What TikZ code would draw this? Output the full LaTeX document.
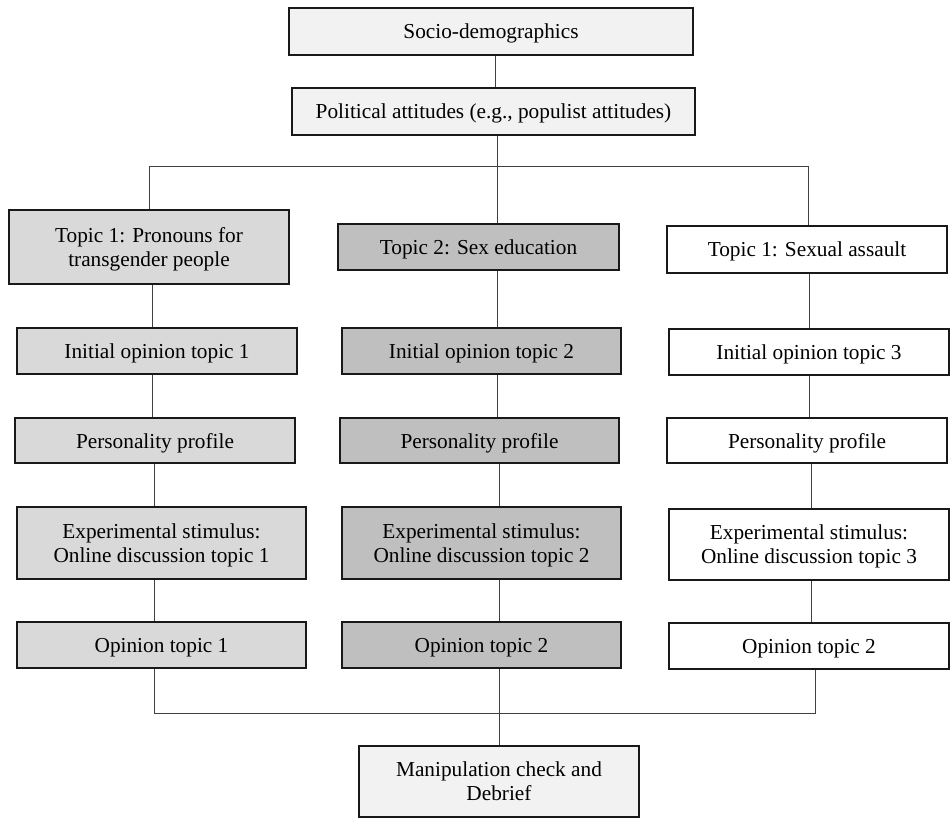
\documentclass[tikz,border=0pt]{standalone}
\usepackage{fontspec}
\setmainfont{Liberation Serif}
\begin{document}
\begin{tikzpicture}[x=1pt,y=-1pt,
  box/.style={draw=black!90, line width=1.6pt, rectangle, inner sep=0pt, align=center,
    font=\fontsize{21.3}{24}\selectfont, text=black, text depth=0pt},
  fa/.style={box, fill=black!5},
  fb/.style={box, fill=black!15},
  fc/.style={box, fill=black!25},
  fd/.style={box, fill=white},
  conn/.style={draw=black!75, line width=1pt}]
\useasboundingbox (0,0) rectangle (952,825);
% nodes
\node[fa, minimum width=404pt, minimum height=47pt] (soc) at (491,31.5) {Socio-demographics};
\node[fa, minimum width=403pt, minimum height=47pt] (pol) at (493.5,111.5) {Political attitudes (e.g., populist attitudes)};
\node[fb, minimum width=280pt, minimum height=74pt] (t1) at (149,247) {Topic 1: Pronouns for\\transgender people};
\node[fc, minimum width=281pt, minimum height=46pt] (t2) at (478.5,247) {Topic 2: Sex education};
\node[fd, minimum width=280pt, minimum height=47pt] (t3) at (807,249.5) {Topic 1: Sexual assault};
\node[fb, minimum width=280pt, minimum height=46pt] (i1) at (157,351) {Initial opinion topic 1};
\node[fc, minimum width=279pt, minimum height=46pt] (i2) at (481.5,351) {Initial opinion topic 2};
\node[fd, minimum width=280pt, minimum height=46pt] (i3) at (809,352) {Initial opinion topic 3};
\node[fb, minimum width=280pt, minimum height=45pt] (p1) at (155,440.5) {Personality profile};
\node[fc, minimum width=279pt, minimum height=45pt] (p2) at (479.5,440.5) {Personality profile};
\node[fd, minimum width=280pt, minimum height=45pt] (p3) at (807,440.5) {Personality profile};
\node[fb, minimum width=289pt, minimum height=72pt] (e1) at (161.5,543) {Experimental stimulus:\\Online discussion topic 1};
\node[fc, minimum width=279pt, minimum height=72pt] (e2) at (481.5,543) {Experimental stimulus:\\Online discussion topic 2};
\node[fd, minimum width=280pt, minimum height=71pt] (e3) at (809,544.5) {Experimental stimulus:\\Online discussion topic 3};
\node[fb, minimum width=289pt, minimum height=46pt] (o1) at (161.5,645) {Opinion topic 1};
\node[fc, minimum width=279pt, minimum height=46pt] (o2) at (481.5,645) {Opinion topic 2};
\node[fd, minimum width=280pt, minimum height=46pt] (o3) at (809,646) {Opinion topic 2};
\node[fa, minimum width=280pt, minimum height=71pt] (m) at (499,781.5) {Manipulation check and\\Debrief};
% column coordinates
\coordinate (xs) at (495,0);
\coordinate (barL) at (149,166);
\coordinate (barM) at (497,166);
\coordinate (barR) at (808,166);
\coordinate (c1a) at (152,0);
\coordinate (c1b) at (154,0);
\coordinate (c2a) at (497,0);
\coordinate (c2b) at (499,0);
\coordinate (c3a) at (809,0);
\coordinate (c3b) at (811,0);
\coordinate (botL) at (154,713);
\coordinate (botM) at (499,713);
\coordinate (botR) at (815,713);
% connectors
\draw[conn] (soc.south -| xs) -- (pol.north -| xs);
\draw[conn] (pol.south -| barM) -- (barM);
\draw[conn] (barL) -- (barR);
\draw[conn] (barL) -- (t1.north -| barL);
\draw[conn] (barM) -- (t2.north -| barM);
\draw[conn] (barR) -- (t3.north -| barR);
\draw[conn] (t1.south -| c1a) -- (i1.north -| c1a);
\draw[conn] (i1.south -| c1a) -- (p1.north -| c1a);
\draw[conn] (p1.south -| c1b) -- (e1.north -| c1b);
\draw[conn] (e1.south -| c1b) -- (o1.north -| c1b);
\draw[conn] (t2.south -| c2a) -- (i2.north -| c2a);
\draw[conn] (i2.south -| c2a) -- (p2.north -| c2a);
\draw[conn] (p2.south -| c2b) -- (e2.north -| c2b);
\draw[conn] (e2.south -| c2b) -- (o2.north -| c2b);
\draw[conn] (t3.south -| c3a) -- (i3.north -| c3a);
\draw[conn] (i3.south -| c3a) -- (p3.north -| c3a);
\draw[conn] (p3.south -| c3b) -- (e3.north -| c3b);
\draw[conn] (e3.south -| c3b) -- (o3.north -| c3b);
\draw[conn] (o1.south -| botL) -- (botL) -- (botR) -- (o3.south -| botR);
\draw[conn] (o2.south -| botM) -- (m.north -| botM);
\end{tikzpicture}
\end{document}
